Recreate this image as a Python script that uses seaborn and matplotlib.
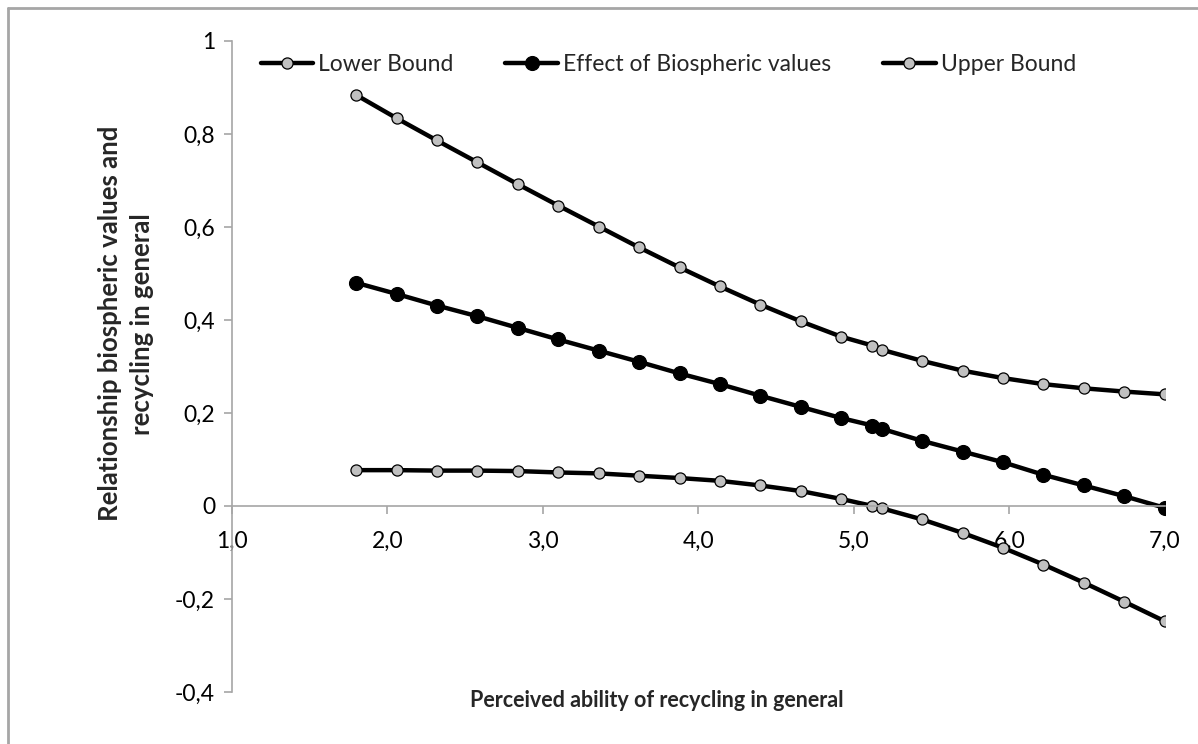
import matplotlib
matplotlib.use("Agg")
import matplotlib.pyplot as plt
import seaborn as sns
import numpy as np
from matplotlib.lines import Line2D
from matplotlib.ticker import FuncFormatter

# ---- data ----
ability = [1.80, 2.06, 2.32, 2.58, 2.84, 3.10, 3.36, 3.62, 3.88, 4.14, 4.40,
           4.66, 4.92, 5.12, 5.18, 5.44, 5.70, 5.96, 6.22, 6.48, 6.74, 7.00]
lower_bound = [0.077, 0.077, 0.076, 0.076, 0.075, 0.072, 0.070, 0.065, 0.060, 0.054, 0.044,
               0.032, 0.015, 0.000, -0.005, -0.029, -0.058, -0.090, -0.126, -0.165, -0.206, -0.248]
effect = [0.480, 0.456, 0.431, 0.408, 0.383, 0.358, 0.334, 0.310, 0.285, 0.262, 0.237,
          0.213, 0.189, 0.173, 0.166, 0.140, 0.117, 0.094, 0.067, 0.044, 0.021, -0.004]
upper_bound = [0.884, 0.834, 0.786, 0.739, 0.692, 0.646, 0.601, 0.556, 0.513, 0.472, 0.433,
               0.397, 0.364, 0.345, 0.336, 0.312, 0.291, 0.275, 0.262, 0.253, 0.246, 0.240]
series_names = ["Lower Bound", "Effect of Biospheric values", "Upper Bound"]
x_ticks = [1.0, 2.0, 3.0, 4.0, 5.0, 6.0, 7.0]
y_ticks = [-0.4, -0.2, 0.0, 0.2, 0.4, 0.6, 0.8, 1.0]
x_label = "Perceived ability of recycling in general"
y_label = "Relationship biospheric values and\nrecycling in general"

sns.set_theme(style="white")
plt.rcParams['font.family'] = ['Lato', 'DejaVu Sans']
FS = 16.5

fig = plt.figure(figsize=(11.98, 7.44), dpi=100)
ax = fig.add_axes([0.1934, 0.0700, 0.7788, 0.8749])

gray = "#c0c0c0"
axis_gray = "#a6a6a6"

styles = [
    dict(marker="o", markersize=8, markerfacecolor=gray, markeredgecolor="black", markeredgewidth=0.9),
    dict(marker="o", markersize=10, markerfacecolor="black", markeredgecolor="black", markeredgewidth=0.9),
    dict(marker="o", markersize=8, markerfacecolor=gray, markeredgecolor="black", markeredgewidth=0.9),
]
for vals, st in zip([lower_bound, effect, upper_bound], styles):
    sns.lineplot(x=ability, y=vals, ax=ax, color="black", linewidth=3.2, sort=False, **st)

ax.set_xlim(1.0, 7.0)
ax.set_ylim(-0.4, 1.0)
ax.set_xticks(x_ticks)
ax.set_yticks(y_ticks)
ax.xaxis.set_major_formatter(FuncFormatter(lambda v, p: f"{v:.1f}".replace(".", ",")))
ax.yaxis.set_major_formatter(FuncFormatter(lambda v, p: ("0" if abs(v) < 1e-9 else ("1" if abs(v - 1) < 1e-9 else f"{v:.1f}".replace(".", ",")))))

for s in ["top", "right"]:
    ax.spines[s].set_visible(False)
ax.spines["bottom"].set_position(("data", 0))
for s in ["left", "bottom"]:
    ax.spines[s].set_color(axis_gray)
    ax.spines[s].set_linewidth(1.2)
ax.tick_params(axis="both", colors=axis_gray, labelcolor="black", labelsize=FS,
               length=6, width=1.2, direction="out", bottom=True, left=True)
ax.tick_params(axis="x", pad=12)
ax.tick_params(axis="y", pad=6)
ax.grid(False)
ax.set_xlabel("")
ax.set_ylabel("")

fig.text(0.548, 0.059, x_label, ha="center", va="center", fontsize=15.5, fontweight="bold")
fig.text(0.105, 0.565, y_label, ha="center", va="center", rotation=90, fontsize=18.5,
         fontweight="bold", linespacing=1.4)

handles = [Line2D([0], [0], color="black", linewidth=3.2, **st) for st in styles]
leg = ax.legend(handles, series_names, loc="upper left", bbox_to_anchor=(0.009, 1.012), ncol=3,
                frameon=False, fontsize=FS, handlelength=2.3, handletextpad=0.22,
                columnspacing=2.25)

# chart border (left and top visible)
fig.add_artist(Line2D([8 / 1198, 8 / 1198], [0, 1 - 8 / 744], transform=fig.transFigure,
                      color=axis_gray, linewidth=2))
fig.add_artist(Line2D([8 / 1198, 1], [1 - 8 / 744, 1 - 8 / 744], transform=fig.transFigure,
                      color=axis_gray, linewidth=2))

fig.savefig("out.png", dpi=100, facecolor="white")
